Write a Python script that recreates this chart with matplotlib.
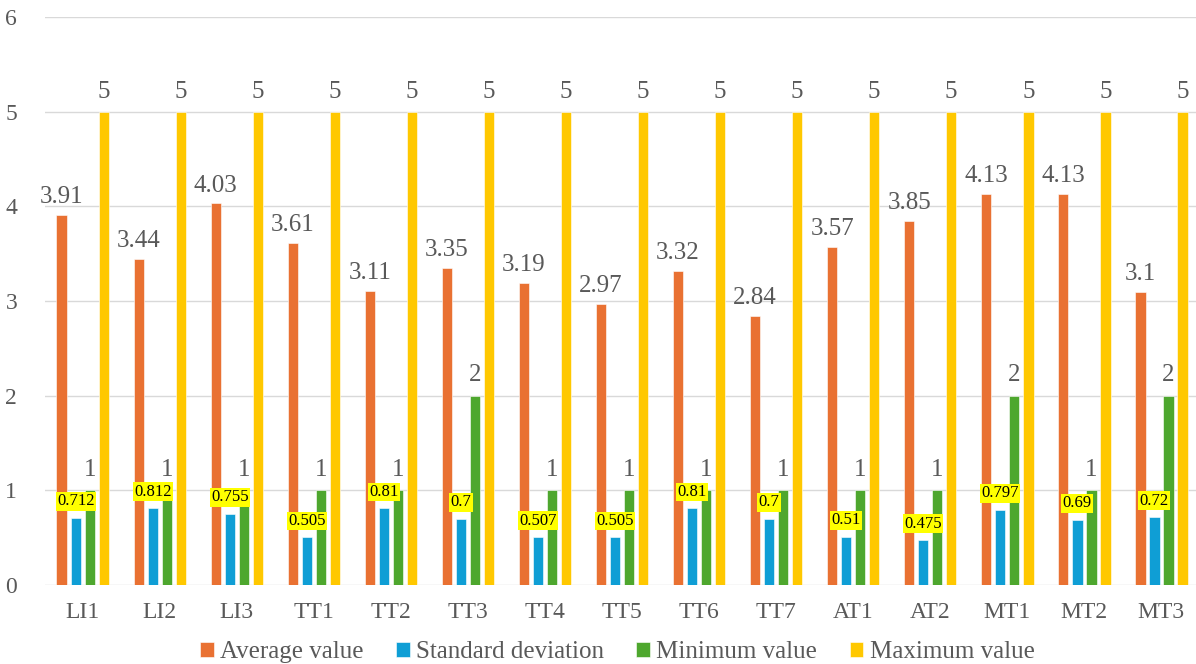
import numpy as np
import matplotlib
matplotlib.use("Agg")
import matplotlib.pyplot as plt

items = ["LI1", "LI2", "LI3", "TT1", "TT2", "TT3", "TT4", "TT5",
         "TT6", "TT7", "AT1", "AT2", "MT1", "MT2", "MT3"]
avg_vals = [3.91, 3.44, 4.03, 3.61, 3.11, 3.35, 3.19, 2.97,
            3.32, 2.84, 3.57, 3.85, 4.13, 4.13, 3.1]
std_vals = [0.712, 0.812, 0.755, 0.505, 0.81, 0.7, 0.507, 0.505,
            0.81, 0.7, 0.51, 0.475, 0.797, 0.69, 0.72]
min_vals = [1, 1, 1, 1, 1, 2, 1, 1, 1, 1, 1, 1, 2, 1, 2]
max_vals = [5] * 15

series_names = ["Average value", "Standard deviation", "Minimum value", "Maximum value"]
colors = ["#E97132", "#0F9ED5", "#4EA72E", "#FFC800"]
txt_col = "#595959"

plt.rcParams["font.family"] = ["Liberation Serif", "DejaVu Serif"]

fig = plt.figure(figsize=(11.96, 6.64), dpi=100)
ax = fig.add_axes([45 / 1196, 1 - 585 / 664, 1 - 45 / 1196, (585 - 17) / 664])

x = np.arange(len(items))
step = 0.182
width = 0.136
all_vals = [avg_vals, std_vals, min_vals, max_vals]
bars = []
for i, (vals, c, nm) in enumerate(zip(all_vals, colors, series_names)):
    b = ax.bar(x + (i - 1.5) * step, vals, width, color=c, label=nm,
               edgecolor="white", linewidth=0.4, zorder=3)
    bars.append(b)

# value labels
for j in range(len(items)):
    ax.annotate(f"{avg_vals[j]:g}", (x[j] - 1.5 * step, avg_vals[j]), xytext=(0, 5),
                textcoords="offset points", ha="center", va="bottom",
                fontsize=18, color=txt_col)
    ax.annotate(f"{std_vals[j]:g}", (x[j] - 0.5 * step, std_vals[j]), xytext=(0, 6),
                textcoords="offset points", ha="center", va="bottom",
                fontsize=12, color="black",
                bbox=dict(boxstyle="square,pad=0.08", fc="#FFFF00", ec="none"))
    ax.annotate(f"{min_vals[j]:g}", (x[j] + 0.5 * step, min_vals[j]), xytext=(0, 7),
                textcoords="offset points", ha="center", va="bottom",
                fontsize=18, color=txt_col)
    ax.annotate(f"{max_vals[j]:g}", (x[j] + 1.5 * step, max_vals[j]), xytext=(0, 6),
                textcoords="offset points", ha="center", va="bottom",
                fontsize=18, color=txt_col)

ax.set_ylim(0, 6)
ax.set_xlim(-0.49, 14.45)
ax.set_yticks(range(7))
ax.set_xticks(x)
ax.set_xticklabels(items)
ax.tick_params(axis="both", length=0, labelsize=17, colors=txt_col)
ax.tick_params(axis="x", pad=12)
ax.tick_params(axis="y", pad=20)
ax.grid(axis="y", color="#D9D9D9", linewidth=1, zorder=0)
for s in ax.spines.values():
    s.set_visible(False)

fig.legend(handles=bars, labels=series_names, loc="center", ncol=4,
           bbox_to_anchor=(0.516, 0.018), frameon=False, fontsize=18,
           handlelength=0.55, handleheight=0.55, handletextpad=0.25,
           columnspacing=1.3, labelcolor=txt_col)

fig.savefig("out.png", dpi=100)
